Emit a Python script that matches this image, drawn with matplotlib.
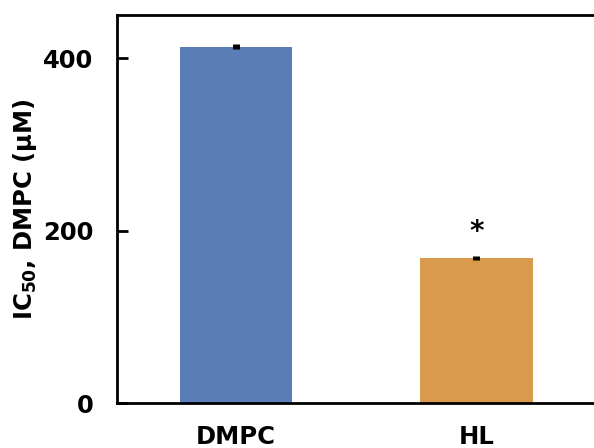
import matplotlib
matplotlib.use("Agg")
import matplotlib.pyplot as plt

categories = ["DMPC", "HL"]
values = [413, 168]
errors = [3, 2]
colors = ["#5B7DB5", "#DA9A4E"]
yticks = [0, 200, 400]
annot = ["", "*"]

plt.rcParams['font.family'] = ['DejaVu Sans']
fig = plt.figure(figsize=(5.94, 4.48), dpi=100)
ax = fig.add_axes([117/594, 45/448, 482/594, 388/448])
x = list(range(len(categories)))
ax.bar(x, values, width=0.467, color=colors, zorder=2)
ax.errorbar(x, values, yerr=errors, fmt='none', ecolor='black', elinewidth=5, capsize=0, zorder=3)
for xi, v, e, a in zip(x, values, errors, annot):
    if a:
        ax.text(xi, v + e + 12, a, ha='center', va='bottom', fontsize=20, fontweight='bold')
ax.set_xlim(-0.496, 1.51)
ax.set_ylim(0, 450)
ax.set_yticks(yticks)
ax.set_yticklabels([str(t) for t in yticks], fontsize=17.5, fontweight='bold')
ax.set_xticks(x)
ax.set_xticklabels(categories, fontsize=17.5, fontweight='bold')
ax.tick_params(axis='y', direction='in', length=8, width=2, pad=17)
ax.tick_params(axis='x', length=0, pad=16)
for s in ax.spines.values():
    s.set_linewidth(2)
ax.set_ylabel("IC$_{\\mathbf{50}}$, DMPC (μM)", fontsize=17.5, fontweight='bold', labelpad=3)
fig.savefig("out.png", dpi=100)
